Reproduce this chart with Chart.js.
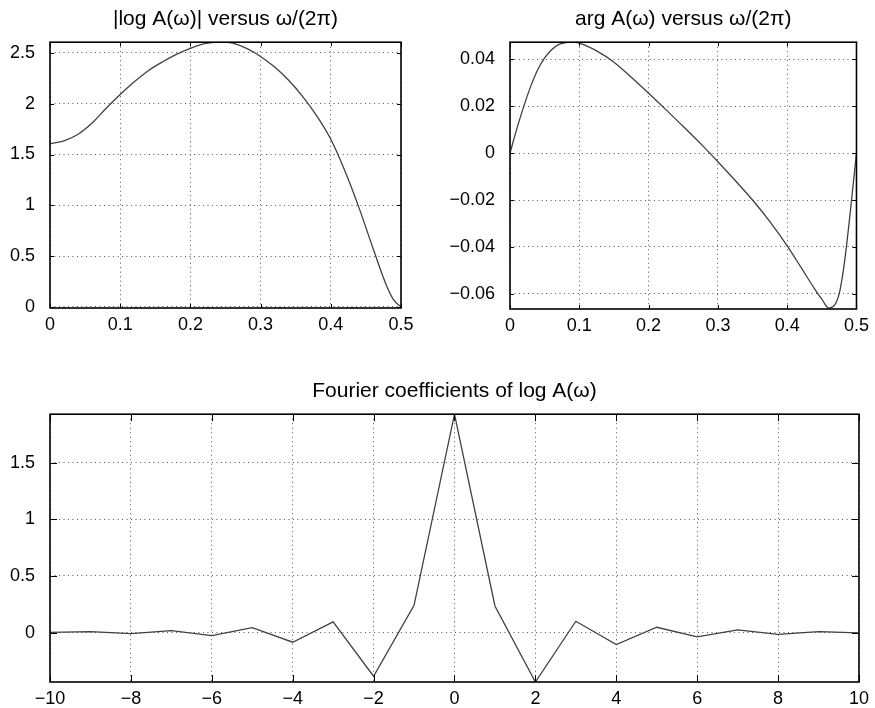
<!DOCTYPE html>
<html>
<head>
<meta charset="utf-8">
<script src="https://cdn.jsdelivr.net/npm/chart.js@4.4.1/dist/chart.umd.min.js"></script>
<style>
  html, body { margin: 0; padding: 0; background: #fff; }
  #wrap { position: relative; width: 875px; height: 708px; }
  canvas { position: absolute; }
</style>
</head>
<body>
<div id="wrap">
  <canvas id="cMag" width="440" height="340" style="left:0;top:0"></canvas>
  <canvas id="cArg" width="435" height="340" style="left:440px;top:0"></canvas>
  <canvas id="cCoef" width="875" height="368" style="left:0;top:340px"></canvas>
</div>
<script>
// |log A(w)| vs w/(2pi)
const magX = [0, 0.02, 0.04, 0.06, 0.08, 0.1, 0.12, 0.14, 0.16, 0.18, 0.2, 0.22, 0.24, 0.26, 0.28, 0.3, 0.32, 0.34, 0.36, 0.38, 0.4, 0.42, 0.44, 0.46, 0.48, 0.49, 0.5];
const magY = [1.607, 1.635, 1.70, 1.81, 1.955, 2.09, 2.215, 2.325, 2.41, 2.485, 2.545, 2.59, 2.605, 2.595, 2.545, 2.465, 2.36, 2.23, 2.07, 1.88, 1.65, 1.34, 0.98, 0.58, 0.20, 0.065, 0.0];

// arg A(w) vs w/(2pi)
const argX = [0, 0.01, 0.02, 0.03, 0.04, 0.05, 0.06, 0.07, 0.08, 0.09, 0.1, 0.125, 0.15, 0.175, 0.2, 0.225, 0.25, 0.275, 0.3, 0.325, 0.35, 0.375, 0.4, 0.42, 0.44, 0.45, 0.46, 0.47, 0.475, 0.48, 0.485, 0.49, 0.495, 0.5];
const argY = [0, 0.0105, 0.02, 0.0285, 0.0355, 0.0405, 0.0440, 0.0462, 0.0470, 0.0472, 0.0468, 0.0435, 0.0387, 0.0323, 0.0255, 0.0185, 0.0113, 0.0040, -0.0037, -0.0117, -0.0200, -0.0292, -0.0395, -0.0487, -0.0580, -0.0622, -0.0660, -0.0640, -0.0600, -0.0520, -0.0410, -0.0280, -0.0140, 0];

// Fourier coefficients of log A(w)
const coefK = [-10, -9, -8, -7, -6, -5, -4, -3, -2, -1, 0, 1, 2, 3, 4, 5, 6, 7, 8, 9, 10];
const coefY = [0.002, 0.009, -0.009, 0.018, -0.026, 0.044, -0.085, 0.094, -0.385, 0.241, 1.927, 0.235, -0.436, 0.100, -0.106, 0.047, -0.038, 0.024, -0.015, 0.009, -0.003];

// tick values
const freqTicks = [0, 0.1, 0.2, 0.3, 0.4, 0.5];
const magTicks = [0, 0.5, 1, 1.5, 2, 2.5];
const argTicks = [-0.06, -0.04, -0.02, 0, 0.02, 0.04];
const kTicks = [-10, -8, -6, -4, -2, 0, 2, 4, 6, 8, 10];
const coefTicks = [0, 0.5, 1, 1.5];

const FONT = "'Liberation Sans', Arial, Helvetica, sans-serif";
const LINE = '#404040';

function fmt(v) {
  return String(+Number(v).toFixed(4)).replace('-', '\u2212');
}

// caja completa + marcas de tick hacia dentro (estilo MATLAB)
const frameAndTicks = {
  id: 'frameAndTicks',
  afterDatasetsDraw(chart, args, opts) {
    const { ctx, chartArea: a, scales } = chart;
    const len = opts.len || 4;
    ctx.save();
    ctx.strokeStyle = '#000';
    ctx.lineWidth = 1;
    ctx.beginPath();
    scales.x.ticks.forEach(t => {
      const px = Math.round(scales.x.getPixelForValue(t.value)) + 0.5;
      ctx.moveTo(px, a.bottom); ctx.lineTo(px, a.bottom - len);
      ctx.moveTo(px, a.top); ctx.lineTo(px, a.top + len);
    });
    scales.y.ticks.forEach(t => {
      const py = Math.round(scales.y.getPixelForValue(t.value)) + 0.5;
      ctx.moveTo(a.left, py); ctx.lineTo(a.left + len, py);
      ctx.moveTo(a.right, py); ctx.lineTo(a.right - len, py);
    });
    ctx.stroke();
    ctx.lineWidth = 1.6;
    ctx.strokeRect(a.left, a.top, a.right - a.left, a.bottom - a.top);
    ctx.restore();
  }
};

function axis(min, max, ticks, size, isX) {
  return {
    type: 'linear',
    min, max,
    afterBuildTicks: s => { s.ticks = ticks.map(v => ({ value: v })); },
    afterFit: s => { if (isX) s.height = size; else s.width = size; },
    grid: { color: '#555', lineWidth: 1, drawTicks: false },
    border: { display: false, dash: [1, 3.5] },
    ticks: {
      color: '#000',
      font: { family: FONT, size: 18 },
      padding: isX ? 6 : 15,
      autoSkip: false,
      maxRotation: 0,
      callback: v => fmt(v)
    }
  };
}

function makeLineChart(id, title, xs, ys, o) {
  return new Chart(document.getElementById(id), {
    type: 'line',
    data: {
      datasets: [{
        data: xs.map((x, i) => ({ x, y: ys[i] })),
        borderColor: LINE,
        borderWidth: 1.3,
        pointRadius: 0,
        fill: false,
        tension: o.smooth ? 0.4 : 0,
        cubicInterpolationMode: o.smooth ? 'monotone' : 'default'
      }]
    },
    options: {
      responsive: false,
      animation: false,
      devicePixelRatio: 1,
      layout: { padding: o.padding },
      plugins: {
        legend: { display: false },
        tooltip: { enabled: false },
        title: {
          display: true,
          text: title,
          fullSize: false,
          color: '#000',
          font: { family: FONT, size: 21, weight: 'normal' },
          padding: { top: 7, bottom: 10 }
        },
        frameAndTicks: { len: o.tickLen }
      },
      scales: {
        x: axis(o.xMin, o.xMax, o.xTicks, o.xH, true),
        y: axis(o.yMin, o.yMax, o.yTicks, o.yW, false)
      }
    },
    plugins: [frameAndTicks]
  });
}

makeLineChart('cMag', '|log A(\u03c9)| versus \u03c9/(2\u03c0)', magX, magY, {
  smooth: true, padding: { left: 0, right: 39, top: 0, bottom: 0 },
  xMin: 0, xMax: 0.5, xTicks: freqTicks, xH: 32,
  yMin: -0.01, yMax: 2.605, yTicks: magTicks, yW: 50, tickLen: 4
});

makeLineChart('cArg', 'arg A(\u03c9) versus \u03c9/(2\u03c0)', argX, argY, {
  smooth: true, padding: { left: 0, right: 13, top: 0, bottom: 0 },
  xMin: 0, xMax: 0.5, xTicks: freqTicks, xH: 31,
  yMin: -0.0664, yMax: 0.0472, yTicks: argTicks, yW: 70, tickLen: 4
});

makeLineChart('cCoef', 'Fourier coefficients of log A(\u03c9)', coefK, coefY, {
  smooth: false, padding: { left: 0, right: 14, top: 32, bottom: 0 },
  xMin: -10, xMax: 10, xTicks: kTicks, xH: 26,
  yMin: -0.436, yMax: 1.927, yTicks: coefTicks, yW: 50, tickLen: 7
});
</script>
</body>
</html>
